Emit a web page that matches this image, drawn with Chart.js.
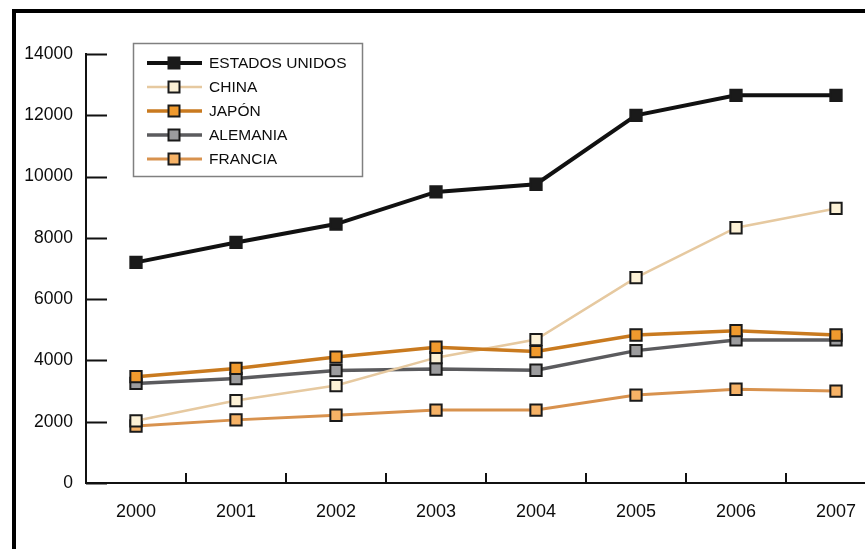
<!DOCTYPE html>
<html>
<head>
<meta charset="utf-8">
<title>PIB 2000-2007</title>
<script src="https://cdn.jsdelivr.net/npm/chart.js@4.4.0/dist/chart.umd.min.js"></script>
<style>
  html, body { margin: 0; padding: 0; overflow: hidden; background: #fff; width: 865px; height: 549px; }
  #wrap { position: absolute; left: 0; top: 0; width: 900px; height: 560px; }
  #frame { position: absolute; left: 12px; top: 9px; width: 900px; height: 600px; border: 4px solid #000; box-sizing: border-box; pointer-events: none; }
</style>
</head>
<body>
<div id="wrap"><canvas id="chart" width="900" height="560"></canvas></div>
<div id="frame"></div>
<script>
var years = ['2000', '2001', '2002', '2003', '2004', '2005', '2006', '2007'];
var usa     = [7200, 7850, 8450, 9500, 9750, 12000, 12650, 12650];
var china   = [2030, 2690, 3180, 4090, 4680, 6700, 8330, 8960];
var japan   = [3470, 3740, 4110, 4430, 4290, 4830, 4970, 4830];
var germany = [3250, 3410, 3670, 3720, 3680, 4320, 4670, 4670];
var france  = [1860, 2060, 2210, 2380, 2380, 2870, 3060, 3000];
var yTicks  = [0, 2000, 4000, 6000, 8000, 10000, 12000, 14000];

var names = ['ESTADOS UNIDOS', 'CHINA', 'JAPÓN', 'ALEMANIA', 'FRANCIA'];
var lineColors = ['#111111', '#e6c9a0', '#c97a1f', '#5b5b5e', '#d8924e'];
var fillColors = ['#1a1a1a', '#fcf1d6', '#f09a2e', '#9c9c9e', '#f6b266'];
var widths = [4, 2.5, 3.5, 3.5, 3];
// Japan is painted over China, Germany and France
var drawOrder = [0, 2, 1, 3, 4];

var font = 'Liberation Sans, Arial, sans-serif';
var textColor = '#0c0c0c';

// inward tick marks on both axes
var innerTicks = {
    id: 'innerTicks',
    afterDraw: function (chart) {
        var ctx = chart.ctx, xs = chart.scales.x, ys = chart.scales.y;
        ctx.save();
        ctx.strokeStyle = '#111';
        ctx.lineWidth = 2;
        ctx.beginPath();
        ys.ticks.forEach(function (t, i) {
            var py = Math.round(ys.getPixelForTick(i)) + 0.5;
            ctx.moveTo(ys.right, py);
            ctx.lineTo(ys.right + 21, py);
        });
        for (var i = 1; i <= years.length; i++) {
            var px = Math.round(xs.getPixelForValue(i - 0.5));
            ctx.moveTo(px, xs.top);
            ctx.lineTo(px, xs.top - 10);
        }
        ctx.stroke();
        ctx.restore();
    }
};

// boxed legend with a line sample and marker per series
var boxLegend = {
    id: 'boxLegend',
    afterDraw: function (chart) {
        var ctx = chart.ctx;
        ctx.save();
        ctx.fillStyle = '#fff';
        ctx.fillRect(133, 43, 230, 134);
        ctx.strokeStyle = '#808080';
        ctx.lineWidth = 1.5;
        ctx.strokeRect(133.5, 43.5, 229, 133);
        ctx.font = '15.5px ' + font;
        ctx.textBaseline = 'middle';
        names.forEach(function (name, i) {
            var y = 63 + i * 24;
            ctx.strokeStyle = lineColors[i];
            ctx.lineWidth = widths[i];
            ctx.beginPath();
            ctx.moveTo(147, y);
            ctx.lineTo(202, y);
            ctx.stroke();
            ctx.fillStyle = fillColors[i];
            ctx.fillRect(168.5, y - 5.5, 11, 11);
            ctx.strokeStyle = '#1a1a1a';
            ctx.lineWidth = 2;
            ctx.strokeRect(168.5, y - 5.5, 11, 11);
            ctx.fillStyle = textColor;
            ctx.fillText(name, 209, y + 1);
        });
        ctx.restore();
    }
};

var series = [usa, china, japan, germany, france];
var datasets = series.map(function (values, i) {
    return {
        label: names[i],
        data: values,
        borderColor: lineColors[i],
        borderWidth: widths[i],
        backgroundColor: fillColors[i],
        pointStyle: 'rect',
        pointRadius: 8,
        pointBorderWidth: 2,
        pointBorderColor: '#1a1a1a',
        pointBackgroundColor: fillColors[i],
        tension: 0,
        order: drawOrder[i]
    };
});

new Chart(document.getElementById('chart'), {
    type: 'line',
    data: { labels: years, datasets: datasets },
    options: {
        responsive: false,
        animation: false,
        layout: { padding: { top: 54, right: 14, left: 0, bottom: 0 } },
        plugins: { legend: { display: false }, tooltip: { enabled: false } },
        scales: {
            x: {
                offset: true,
                grid: { display: false, drawTicks: false },
                border: { display: true, color: '#111', width: 2 },
                ticks: { color: textColor, padding: 18, font: { family: font, size: 18 }, maxRotation: 0 },
                afterFit: function (s) { s.height = 77; }
            },
            y: {
                min: 0,
                max: 14000,
                grid: { display: false, drawTicks: false },
                border: { display: true, color: '#111', width: 2 },
                afterBuildTicks: function (s) { s.ticks = yTicks.map(function (v) { return { value: v }; }); },
                ticks: {
                    color: textColor, padding: 13, font: { family: font, size: 17.5 },
                    callback: function (v) { return String(v); }
                },
                afterFit: function (s) { s.width = 86; }
            }
        }
    },
    plugins: [innerTicks, boxLegend]
});
</script>
</body>
</html>
